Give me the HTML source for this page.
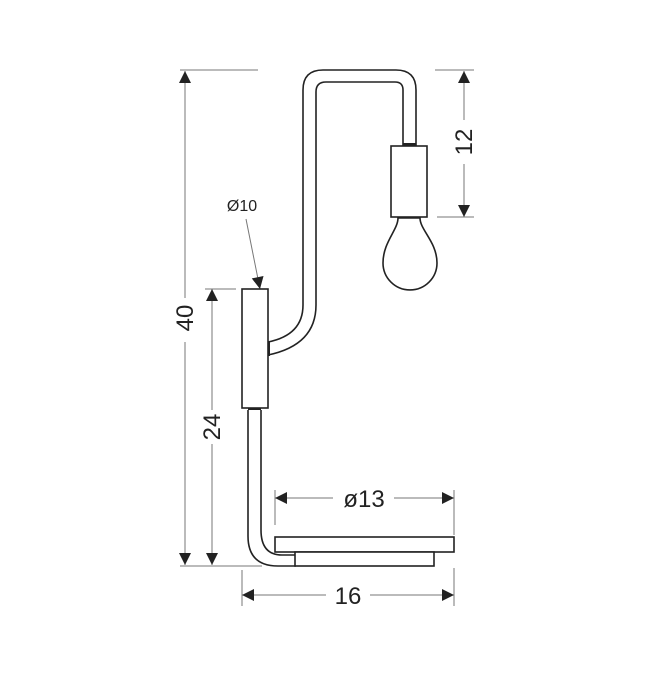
<!DOCTYPE html>
<html><head><style>html,body{margin:0;padding:0;background:#fff}svg{display:block}</style></head>
<body>
<svg width="650" height="677" viewBox="0 0 650 677" xmlns="http://www.w3.org/2000/svg" font-family="Liberation Sans, sans-serif">
<defs>
<marker id="b" viewBox="0 0 10 10" refX="10" refY="5" markerWidth="13" markerHeight="12" markerUnits="userSpaceOnUse" orient="auto-start-reverse"><path d="M0,0 L10,5 L0,10 z" fill="#222"/></marker>
</defs>
<g stroke="#777" stroke-width="1" fill="none">
<line x1="180" y1="70" x2="258" y2="70"/>
<line x1="180" y1="566" x2="262" y2="566"/>
<line x1="205" y1="289" x2="236" y2="289"/>
<line x1="435" y1="70" x2="474" y2="70"/>
<line x1="437" y1="217" x2="474" y2="217"/>
<line x1="275" y1="490" x2="275" y2="525"/>
<line x1="454" y1="490" x2="454" y2="535"/>
<line x1="242" y1="570" x2="242" y2="606"/>
<line x1="454" y1="568" x2="454" y2="606"/>
<line x1="185" y1="71" x2="185" y2="298" marker-start="url(#b)"/>
<line x1="185" y1="342" x2="185" y2="565" marker-end="url(#b)"/>
<line x1="212" y1="289" x2="212" y2="410" marker-start="url(#b)"/>
<line x1="212" y1="444" x2="212" y2="565" marker-end="url(#b)"/>
<line x1="464" y1="71" x2="464" y2="120" marker-start="url(#b)"/>
<line x1="464" y1="164" x2="464" y2="217" marker-end="url(#b)"/>
<line x1="275" y1="498" x2="333" y2="498" marker-start="url(#b)"/>
<line x1="394" y1="498" x2="454" y2="498" marker-end="url(#b)"/>
<line x1="242" y1="595" x2="326" y2="595" marker-start="url(#b)"/>
<line x1="370" y1="595" x2="454" y2="595" marker-end="url(#b)"/>
<line x1="246" y1="219" x2="260" y2="289" marker-end="url(#b)"/>
</g>
<g stroke="#222" stroke-width="1.6" fill="#fff">
<path d="M268,355 Q316,345 316,305 L316,92 Q316,82 326,82 L395,82 Q403,82 403,90 L403,146" fill="none"/>
<path d="M268,342 Q303,335 303,305 L303,90 Q303,70 323,70 L396,70 Q416,70 416,90 L416,146" fill="none"/>
<rect x="266" y="341" width="4" height="15" fill="#222" stroke="none"/>
<rect x="403" y="143" width="13" height="3" fill="#222" stroke="none"/>
<rect x="391" y="146" width="36" height="71"/>
<path d="M398,218 C398,230 383,242 383,263 A27,27 0 0 0 437,263 C437,242 420,230 420,218 Z"/>
<path d="M248,410 L248,536 Q248,566 278,566 L296,566 M261,410 L261,530 Q261,555 282,555 L296,555" fill="none"/>
<rect x="248" y="407" width="13" height="3" fill="#222" stroke="none"/>
<rect x="242" y="289" width="26" height="119"/>
<rect x="275" y="537" width="179" height="15"/>
<rect x="295" y="552" width="139" height="14"/>
</g>
<g fill="#222" font-size="24" text-anchor="middle">
<text x="0" y="0" transform="translate(193,318) rotate(-90)">40</text>
<text x="0" y="0" transform="translate(220,427) rotate(-90)">24</text>
<text x="0" y="0" transform="translate(472,142) rotate(-90)">12</text>
<text x="364" y="507">ø13</text>
<text x="348" y="604">16</text>
<text x="242" y="211" font-size="16">Ø10</text>
</g>
</svg>
</body></html>
